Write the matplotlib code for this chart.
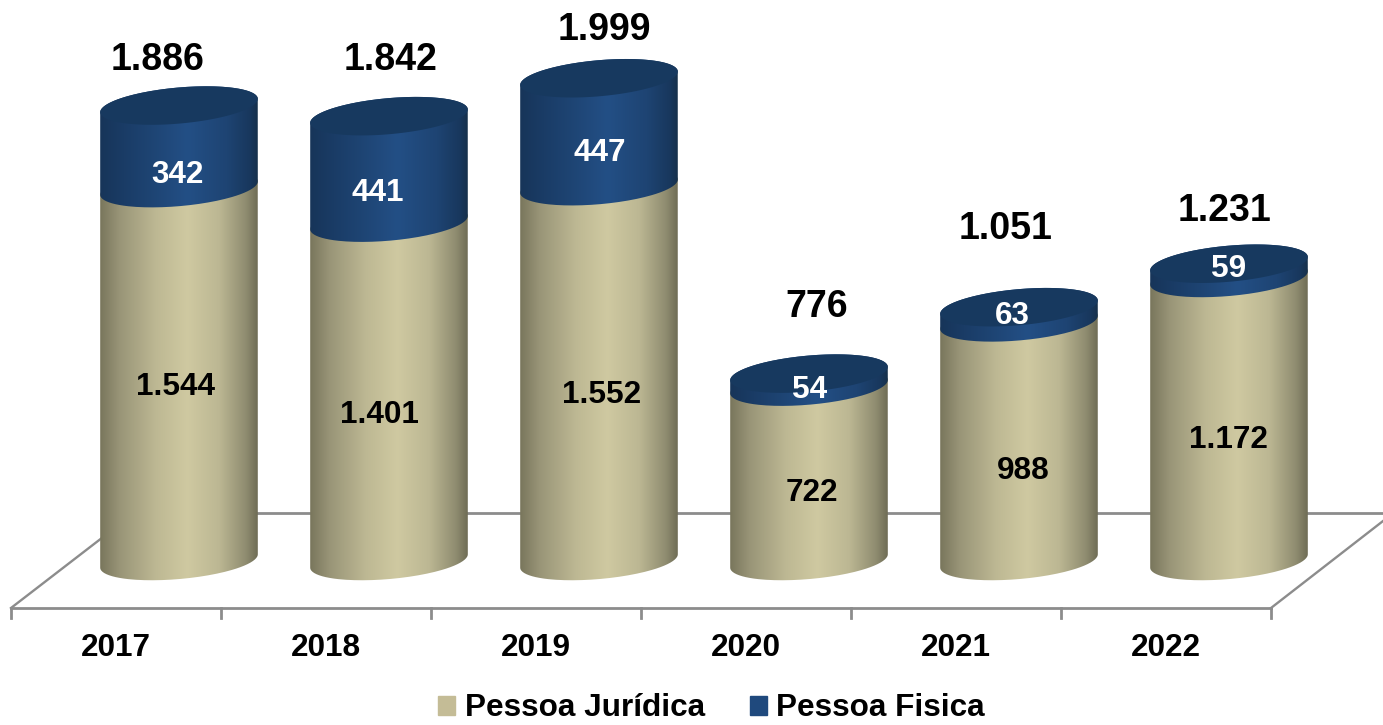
import numpy as np
import matplotlib
matplotlib.use("Agg")
import matplotlib.pyplot as plt
from matplotlib.patches import PathPatch, Patch
from matplotlib.path import Path
from matplotlib.colors import LinearSegmentedColormap

plt.rcParams['font.family'] = ['Liberation Sans', 'DejaVu Sans']

years = ['2017', '2018', '2019', '2020', '2021', '2022']
pessoa_juridica = [1544, 1401, 1552, 722, 988, 1172]
pessoa_fisica = [342, 441, 447, 54, 63, 59]

# label nudges in pixels, the labels were placed by hand in the original
total_nudge = [(-21, 46), (2, 56), (5, 48), (8, 67), (-13, 78), (-5, 53)]
pj_nudge = [(-3, -12), (-10, -23), (3, -21), (3, -19), (4, -29), (-1, -21)]
pf_nudge = [(-1, -28), (-11, -24), (1, -21), (1, -10), (-7, -1), (0, 2)]

PX_PER_CAT = 210.0
PX_PER_VAL = 0.2415
X0, Y0 = 179.0, 561.0  # pixel of category 0, value 0
W, H = 1383, 725

# tilted ellipse of the cylinder ends, pixels
A, B, THETA = 79.1, 18.0, np.radians(5.1)


def px_x(x):
    return (x - X0) / PX_PER_CAT


def px_y(y):
    return (Y0 - y) / PX_PER_VAL


def fmt(v):
    return f"{v:,}".replace(",", ".")


def ellipse(i, v, t):
    dx = A * np.cos(t) * np.cos(THETA) - B * np.sin(t) * np.sin(THETA)
    dy = A * np.cos(t) * np.sin(THETA) + B * np.sin(t) * np.cos(THETA)
    return i + dx / PX_PER_CAT, v + dy / PX_PER_VAL


fig = plt.figure(figsize=(W / 100, H / 100), dpi=100, facecolor='white')
ax = fig.add_axes([0, 0, 1, 1])
ax.axis('off')

khaki = LinearSegmentedColormap.from_list('khaki', [
    (0.0, '#79765c'), (0.12, '#989477'), (0.35, '#bdb893'), (0.55, '#cfc9a1'),
    (0.75, '#bcb793'), (0.92, '#8f8c70'), (1.0, '#6c6a53')])
blue = LinearSegmentedColormap.from_list('blue', [
    (0.0, '#173559'), (0.15, '#1a3c66'), (0.55, '#234f85'),
    (0.8, '#1e4473'), (0.95, '#18375c'), (1.0, '#163049')])
grad = np.linspace(0, 1, 256).reshape(1, -1)

t_ext = np.arctan2(-B * np.sin(THETA), A * np.cos(THETA))  # right extreme
t_low = np.linspace(t_ext - np.pi, t_ext, 80)
t_up = np.linspace(t_ext, t_ext + np.pi, 80)
half = A / PX_PER_CAT


def body(i, v0, v1, cmap, z):
    x0, y0 = ellipse(i, v0, t_low)
    x1, y1 = ellipse(i, v1, t_up)
    verts = np.column_stack([np.r_[x0, x1], np.r_[y0, y1]])
    im = ax.imshow(grad, cmap=cmap, aspect='auto', interpolation='bilinear', zorder=z,
                   extent=(i - half, i + half, v0 - 200, v1 + 200))
    clip = PathPatch(Path(np.vstack([verts, verts[0]])), transform=ax.transData)
    im.set_clip_path(clip)


# floor and back wall
grey = '#8c8c8c'
y_front, y_back, y_tick = px_y(608), px_y(512.5), px_y(618)
x_left = px_x(11)
x_right = x_left + len(years)
ax.plot([px_x(120), px_x(W + 5)], [y_back, y_back], color=grey, lw=2, zorder=1)
ax.plot([x_left, x_right], [y_front, y_front], color=grey, lw=2, zorder=1)
ax.plot([x_left, px_x(120)], [y_front, px_y(524)], color=grey, lw=1.7, zorder=1)
ax.plot([x_right, px_x(1394)], [y_front, y_back], color=grey, lw=1.7, zorder=1)
for k in range(len(years) + 1):
    ax.plot([x_left + k, x_left + k], [y_front, y_tick], color=grey, lw=2, zorder=1)

for i, (pj, pf) in enumerate(zip(pessoa_juridica, pessoa_fisica)):
    total = pj + pf
    z = 2 + i
    body(i, 0, pj, khaki, z)
    body(i, pj, total, blue, z + 0.1)
    tx, ty = ellipse(i, total, np.linspace(0, 2 * np.pi, 160))
    ax.fill(tx, ty, color='#17395f', lw=0, zorder=z + 0.2)

    ax.annotate(fmt(total), (i, total), xytext=total_nudge[i], textcoords='offset pixels',
                ha='center', va='center', fontsize=27, fontweight='bold', color='black', zorder=20)
    ax.annotate(fmt(pj), (i, pj / 2), xytext=pj_nudge[i], textcoords='offset pixels',
                ha='center', va='center', fontsize=22.7, fontweight='bold', color='black', zorder=20)
    ax.annotate(fmt(pf), (i, pj + pf / 2), xytext=pf_nudge[i], textcoords='offset pixels',
                ha='center', va='center', fontsize=22.7, fontweight='bold', color='white', zorder=20)
    ax.text(i - 0.302, px_y(648), years[i], ha='center', va='center',
            fontsize=22.7, fontweight='bold', color='black')

ax.set_xlim(px_x(0), px_x(W))
ax.set_ylim(px_y(H), px_y(0))

handles = [Patch(color='#c4bc96', label='Pessoa Jurídica'), Patch(color='#1f497d', label='Pessoa Fisica')]
fig.legend(handles=handles, loc='lower center', bbox_to_anchor=(0.5145, -0.037), ncol=2, frameon=False,
           prop={'size': 22.7, 'weight': 'bold'}, handlelength=0.54, handleheight=0.54,
           handletextpad=0.29, columnspacing=1.43)

fig.savefig('out.png', dpi=100)
